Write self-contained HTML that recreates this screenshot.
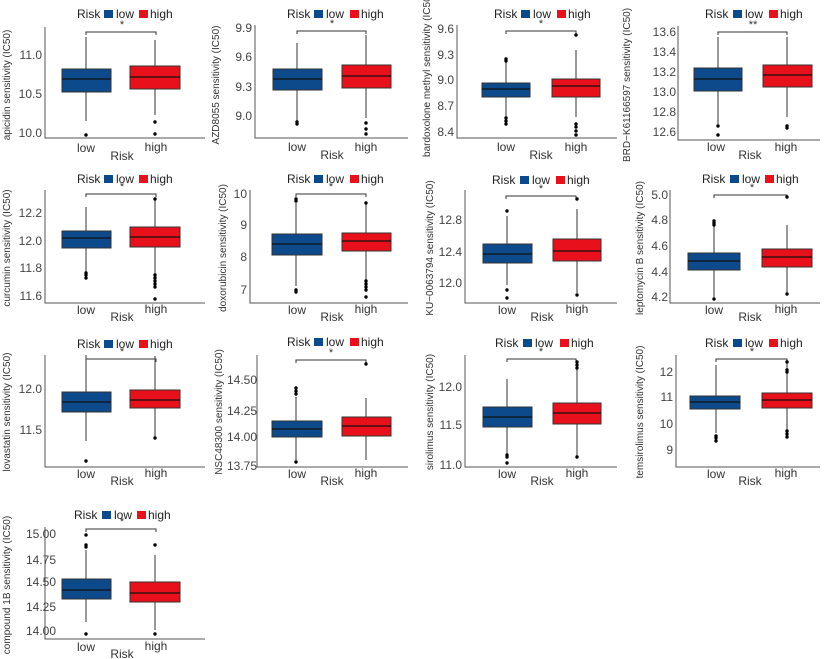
<!DOCTYPE html><html><head><style>body{margin:0;background:#fff}svg{display:block}text{font-family:"Liberation Sans",sans-serif}</style></head><body>
<svg width="830" height="659" viewBox="0 0 830 659" xmlns="http://www.w3.org/2000/svg">
<defs>
<style>.ax{stroke:#555;stroke-width:1;fill:none}.t{font-size:12px;fill:#444}.tl{font-size:12px;fill:#444;text-anchor:end}.lg{font-size:12px;fill:#222}.yl{font-size:10px;fill:#333;text-anchor:middle}.lo{fill:#0d4a8c;stroke:#333;stroke-width:1}.hi{fill:#e8101a;stroke:#333;stroke-width:1}.md{stroke:#111;stroke-width:1.3}.w{stroke:#555;stroke-width:1.2}.br{stroke:#333;stroke-width:1;fill:none}.st{font-size:11px;fill:#333;text-anchor:middle}.xl{font-size:12px;fill:#333;text-anchor:middle}</style>
</defs>

<!-- Panel 1 apicidin -->
<g>
<text class="lg" x="77" y="18">Risk</text><rect x="104" y="10" width="9" height="8" fill="#0d4a8c"/><text class="lg" x="116" y="18">low</text><rect x="139" y="10" width="9" height="8" fill="#e8101a"/><text class="lg" x="150" y="18">high</text>
<path class="ax" d="M45,27V138H205"/>
<text class="tl" x="42" y="59">11.0</text><text class="tl" x="42" y="98">10.5</text><text class="tl" x="42" y="137">10.0</text>
<path class="br" d="M86,35V32H156V35"/><text class="st" x="122" y="28">*</text>
<line class="w" x1="86" y1="37" x2="86" y2="121"/><rect class="lo" x="62" y="69" width="49" height="23"/><line class="md" x1="62" y1="79" x2="111" y2="79"/>
<circle cx="86" cy="135" r="1.7"/>
<line class="w" x1="155" y1="40" x2="155" y2="115"/><rect class="hi" x="130" y="66" width="50" height="23"/><line class="md" x1="130" y1="77" x2="180" y2="77"/>
<circle cx="155" cy="122" r="1.7"/><circle cx="155" cy="134" r="1.7"/>
<text class="xl" x="86" y="152">low</text><text class="xl" x="156" y="151">high</text><text class="xl" x="122" y="160">Risk</text>
<text class="yl" transform="translate(10,85) rotate(-90)">apicidin sensitivity (IC50)</text>
</g>

<!-- Panel 2 AZD8055 -->
<g>
<text class="lg" x="287" y="18">Risk</text><rect x="314" y="10" width="9" height="8" fill="#0d4a8c"/><text class="lg" x="326" y="18">low</text><rect x="350" y="10" width="9" height="8" fill="#e8101a"/><text class="lg" x="361" y="18">high</text>
<path class="ax" d="M255,25V138H408"/>
<text class="tl" x="252" y="32">9.9</text><text class="tl" x="252" y="61">9.6</text><text class="tl" x="252" y="91">9.3</text><text class="tl" x="252" y="120">9.0</text>
<path class="br" d="M297,34V31H366V34"/><text class="st" x="332" y="27">*</text>
<line class="w" x1="297" y1="43" x2="297" y2="121"/><rect class="lo" x="273" y="69" width="49" height="21"/><line class="md" x1="273" y1="79" x2="322" y2="79"/>
<circle cx="297" cy="122" r="1.7"/><circle cx="297" cy="124" r="1.7"/>
<line class="w" x1="366" y1="35" x2="366" y2="118"/><rect class="hi" x="342" y="65" width="49" height="23"/><line class="md" x1="342" y1="76" x2="391" y2="76"/>
<circle cx="366" cy="123" r="1.7"/><circle cx="366" cy="129" r="1.7"/><circle cx="366" cy="134" r="1.7"/>
<text class="xl" x="297" y="151">low</text><text class="xl" x="366" y="151">high</text><text class="xl" x="332" y="159">Risk</text>
<text class="yl" transform="translate(219,85) rotate(-90)">AZD8055 sensitivity (IC50)</text>
</g>

<!-- Panel 3 bardoxolone -->
<g>
<text class="lg" x="494" y="18">Risk</text><rect x="521" y="10" width="9" height="8" fill="#0d4a8c"/><text class="lg" x="533" y="18">low</text><rect x="557" y="10" width="9" height="8" fill="#e8101a"/><text class="lg" x="568" y="18">high</text>
<path class="ax" d="M457,25V138H617"/>
<text class="tl" x="454" y="33">9.6</text><text class="tl" x="454" y="59">9.3</text><text class="tl" x="454" y="84">9.0</text><text class="tl" x="454" y="110">8.7</text><text class="tl" x="454" y="136">8.4</text>
<path class="br" d="M506,34V31H576V34"/><text class="st" x="541" y="27">*</text>
<line class="w" x1="506" y1="62" x2="506" y2="117"/><rect class="lo" x="482" y="83" width="48" height="14"/><line class="md" x1="482" y1="89" x2="530" y2="89"/>
<circle cx="506" cy="59" r="1.7"/><circle cx="506" cy="61" r="1.7"/><circle cx="506" cy="118" r="1.7"/><circle cx="506" cy="121" r="1.7"/><circle cx="506" cy="124" r="1.7"/>
<line class="w" x1="576" y1="50" x2="576" y2="117"/><rect class="hi" x="552" y="79" width="48" height="18"/><line class="md" x1="552" y1="86" x2="600" y2="86"/>
<circle cx="576" cy="35" r="1.7"/><circle cx="576" cy="124" r="1.7"/><circle cx="576" cy="127" r="1.7"/><circle cx="576" cy="131" r="1.7"/><circle cx="576" cy="135" r="1.7"/>
<text class="xl" x="506" y="151">low</text><text class="xl" x="576" y="151">high</text><text class="xl" x="541" y="159">Risk</text>
<text class="yl" transform="translate(430,75) rotate(-90)">bardoxolone methyl sensitivity (IC50)</text>
</g>

<!-- Panel 4 BRD -->
<g>
<text class="lg" x="705" y="18">Risk</text><rect x="733" y="10" width="9" height="8" fill="#0d4a8c"/><text class="lg" x="745" y="18">low</text><rect x="769" y="10" width="9" height="8" fill="#e8101a"/><text class="lg" x="780" y="18">high</text>
<path class="ax" d="M678,26V140H820"/>
<text class="tl" x="676" y="36">13.6</text><text class="tl" x="676" y="56">13.4</text><text class="tl" x="676" y="76">13.2</text><text class="tl" x="676" y="96">13.0</text><text class="tl" x="676" y="116">12.8</text><text class="tl" x="676" y="136">12.6</text>
<path class="br" d="M718,35V32H787V35"/><text class="st" x="753" y="28">**</text>
<line class="w" x1="718" y1="37" x2="718" y2="124"/><rect class="lo" x="694" y="68" width="48" height="23"/><line class="md" x1="694" y1="79" x2="742" y2="79"/>
<circle cx="718" cy="126" r="1.7"/><circle cx="718" cy="135" r="1.7"/>
<line class="w" x1="787" y1="37" x2="787" y2="117"/><rect class="hi" x="763" y="65" width="49" height="22"/><line class="md" x1="763" y1="75" x2="812" y2="75"/>
<circle cx="787" cy="126" r="1.7"/><circle cx="787" cy="128" r="1.7"/>
<text class="xl" x="716" y="151">low</text><text class="xl" x="786" y="151">high</text><text class="xl" x="750" y="159">Risk</text>
<text class="yl" transform="translate(630,85) rotate(-90)">BRD−K61166597 sensitivity (IC50)</text>
</g>

<!-- Panel 5 curcumin -->
<g>
<text class="lg" x="77" y="183">Risk</text><rect x="104" y="175" width="9" height="8" fill="#0d4a8c"/><text class="lg" x="116" y="183">low</text><rect x="139" y="175" width="9" height="8" fill="#e8101a"/><text class="lg" x="150" y="183">high</text>
<path class="ax" d="M45,190V303H205"/>
<text class="tl" x="42" y="217">12.2</text><text class="tl" x="42" y="245">12.0</text><text class="tl" x="42" y="272">11.8</text><text class="tl" x="42" y="300">11.6</text>
<path class="br" d="M86,197V194H156V197"/><text class="st" x="122" y="190">*</text>
<line class="w" x1="86" y1="207" x2="86" y2="272"/><rect class="lo" x="62" y="231" width="49" height="17"/><line class="md" x1="62" y1="238" x2="111" y2="238"/>
<circle cx="86" cy="273" r="1.7"/><circle cx="86" cy="275" r="1.7"/><circle cx="86" cy="278" r="1.7"/>
<line class="w" x1="155" y1="198" x2="155" y2="276"/><rect class="hi" x="130" y="227" width="50" height="20"/><line class="md" x1="130" y1="237" x2="180" y2="237"/>
<circle cx="155" cy="199" r="1.7"/><circle cx="155" cy="275" r="1.7"/><circle cx="155" cy="278" r="1.7"/><circle cx="155" cy="281" r="1.7"/><circle cx="155" cy="284" r="1.7"/><circle cx="155" cy="287" r="1.7"/><circle cx="155" cy="299" r="1.7"/>
<text class="xl" x="86" y="314">low</text><text class="xl" x="156" y="313">high</text><text class="xl" x="122" y="321">Risk</text>
<text class="yl" transform="translate(10,248) rotate(-90)">curcumin sensitivity (IC50)</text>
</g>

<!-- Panel 6 doxorubicin -->
<g>
<text class="lg" x="287" y="183">Risk</text><rect x="314" y="175" width="9" height="8" fill="#0d4a8c"/><text class="lg" x="326" y="183">low</text><rect x="350" y="175" width="9" height="8" fill="#e8101a"/><text class="lg" x="361" y="183">high</text>
<path class="ax" d="M250,190V303H408"/>
<text class="tl" x="247" y="198">10</text><text class="tl" x="247" y="229">9</text><text class="tl" x="247" y="261">8</text><text class="tl" x="247" y="294">7</text>
<path class="br" d="M296,197V194H366V197"/><text class="st" x="331" y="190">*</text>
<line class="w" x1="296" y1="203" x2="296" y2="286"/><rect class="lo" x="272" y="234" width="50" height="21"/><line class="md" x1="272" y1="244" x2="322" y2="244"/>
<circle cx="296" cy="199" r="1.7"/><circle cx="296" cy="201" r="1.7"/><circle cx="296" cy="290" r="1.7"/><circle cx="296" cy="292" r="1.7"/>
<line class="w" x1="366" y1="203" x2="366" y2="280"/><rect class="hi" x="342" y="233" width="49" height="18"/><line class="md" x1="342" y1="241" x2="391" y2="241"/>
<circle cx="366" cy="203" r="1.7"/><circle cx="366" cy="281" r="1.7"/><circle cx="366" cy="284" r="1.7"/><circle cx="366" cy="287" r="1.7"/><circle cx="366" cy="290" r="1.7"/><circle cx="366" cy="297" r="1.7"/>
<text class="xl" x="297" y="314">low</text><text class="xl" x="366" y="313">high</text><text class="xl" x="332" y="321">Risk</text>
<text class="yl" transform="translate(226,248) rotate(-90)">doxorubicin sensitivity (IC50)</text>
</g>

<!-- Panel 7 KU -->
<g>
<text class="lg" x="492" y="184">Risk</text><rect x="520" y="176" width="9" height="8" fill="#0d4a8c"/><text class="lg" x="532" y="184">low</text><rect x="556" y="176" width="9" height="8" fill="#e8101a"/><text class="lg" x="567" y="184">high</text>
<path class="ax" d="M465,190V303H617"/>
<text class="tl" x="462" y="224">12.8</text><text class="tl" x="462" y="256">12.4</text><text class="tl" x="462" y="287">12.0</text>
<path class="br" d="M506,199V196H576V199"/><text class="st" x="541" y="192">*</text>
<line class="w" x1="507" y1="216" x2="507" y2="285"/><rect class="lo" x="483" y="244" width="49" height="19"/><line class="md" x1="483" y1="254" x2="532" y2="254"/>
<circle cx="507" cy="211" r="1.7"/><circle cx="507" cy="290" r="1.7"/><circle cx="507" cy="298" r="1.7"/>
<line class="w" x1="577" y1="209" x2="577" y2="293"/><rect class="hi" x="553" y="239" width="48" height="22"/><line class="md" x1="553" y1="251" x2="601" y2="251"/>
<circle cx="577" cy="199" r="1.7"/><circle cx="577" cy="295" r="1.7"/>
<text class="xl" x="507" y="314">low</text><text class="xl" x="577" y="313">high</text><text class="xl" x="542" y="321">Risk</text>
<text class="yl" transform="translate(433,248) rotate(-90)">KU−0063794 sensitivity (IC50)</text>
</g>

<!-- Panel 8 leptomycin -->
<g>
<text class="lg" x="702" y="183">Risk</text><rect x="730" y="175" width="9" height="8" fill="#0d4a8c"/><text class="lg" x="742" y="183">low</text><rect x="765" y="175" width="9" height="8" fill="#e8101a"/><text class="lg" x="776" y="183">high</text>
<path class="ax" d="M670,190V303H820"/>
<text class="tl" x="668" y="199">5.0</text><text class="tl" x="668" y="224">4.8</text><text class="tl" x="668" y="250">4.6</text><text class="tl" x="668" y="276">4.4</text><text class="tl" x="668" y="301">4.2</text>
<path class="br" d="M714,198V195H787V198"/><text class="st" x="752" y="191">*</text>
<line class="w" x1="714" y1="226" x2="714" y2="297"/><rect class="lo" x="688" y="253" width="52" height="17"/><line class="md" x1="688" y1="261" x2="740" y2="261"/>
<circle cx="714" cy="221" r="1.7"/><circle cx="714" cy="223" r="1.7"/><circle cx="714" cy="225" r="1.7"/><circle cx="714" cy="299" r="1.7"/>
<line class="w" x1="787" y1="225" x2="787" y2="294"/><rect class="hi" x="762" y="249" width="50" height="18"/><line class="md" x1="762" y1="257" x2="812" y2="257"/>
<circle cx="787" cy="197" r="1.7"/><circle cx="787" cy="294" r="1.7"/>
<text class="xl" x="714" y="314">low</text><text class="xl" x="786" y="313">high</text><text class="xl" x="750" y="321">Risk</text>
<text class="yl" transform="translate(643,248) rotate(-90)">leptomycin B sensitivity (IC50)</text>
</g>

<!-- Panel 9 lovastatin -->
<g>
<text class="lg" x="77" y="348">Risk</text><rect x="104" y="340" width="9" height="8" fill="#0d4a8c"/><text class="lg" x="116" y="348">low</text><rect x="139" y="340" width="9" height="8" fill="#e8101a"/><text class="lg" x="150" y="348">high</text>
<path class="ax" d="M45,355V467H205"/>
<text class="tl" x="42" y="393">12.0</text><text class="tl" x="42" y="434">11.5</text>
<path class="br" d="M86,362V359H156V362"/><text class="st" x="122" y="355">*</text>
<line class="w" x1="86" y1="355" x2="86" y2="441"/><rect class="lo" x="62" y="392" width="49" height="20"/><line class="md" x1="62" y1="402" x2="111" y2="402"/>
<circle cx="86" cy="461" r="1.7"/>
<line class="w" x1="155" y1="356" x2="155" y2="437"/><rect class="hi" x="130" y="390" width="50" height="18"/><line class="md" x1="130" y1="400" x2="180" y2="400"/>
<circle cx="155" cy="438" r="1.7"/>
<text class="xl" x="86" y="478">low</text><text class="xl" x="156" y="477">high</text><text class="xl" x="122" y="485">Risk</text>
<text class="yl" transform="translate(10,412) rotate(-90)">lovastatin sensitivity (IC50)</text>
</g>

<!-- Panel 10 NSC48300 -->
<g>
<text class="lg" x="287" y="346">Risk</text><rect x="314" y="338" width="9" height="8" fill="#0d4a8c"/><text class="lg" x="326" y="346">low</text><rect x="350" y="338" width="9" height="8" fill="#e8101a"/><text class="lg" x="361" y="346">high</text>
<path class="ax" d="M257,355V467H408"/>
<text class="tl" x="257" y="384">14.50</text><text class="tl" x="257" y="415">14.25</text><text class="tl" x="257" y="441">14.00</text><text class="tl" x="257" y="470">13.75</text>
<path class="br" d="M296,363V360H366V363"/><text class="st" x="331" y="356">*</text>
<line class="w" x1="296" y1="397" x2="296" y2="460"/><rect class="lo" x="272" y="421" width="50" height="16"/><line class="md" x1="272" y1="429" x2="322" y2="429"/>
<circle cx="296" cy="388" r="1.7"/><circle cx="296" cy="391" r="1.7"/><circle cx="296" cy="394" r="1.7"/><circle cx="296" cy="462" r="1.7"/>
<line class="w" x1="366" y1="398" x2="366" y2="460"/><rect class="hi" x="342" y="417" width="49" height="19"/><line class="md" x1="342" y1="426" x2="391" y2="426"/>
<circle cx="366" cy="364" r="1.7"/>
<text class="xl" x="297" y="478">low</text><text class="xl" x="366" y="477">high</text><text class="xl" x="332" y="485">Risk</text>
<text class="yl" transform="translate(222,412) rotate(-90)">NSC48300 sensitivity (IC50)</text>
</g>

<!-- Panel 11 sirolimus -->
<g>
<text class="lg" x="495" y="347">Risk</text><rect x="523" y="339" width="9" height="8" fill="#0d4a8c"/><text class="lg" x="535" y="347">low</text><rect x="560" y="339" width="9" height="8" fill="#e8101a"/><text class="lg" x="571" y="347">high</text>
<path class="ax" d="M465,355V467H617"/>
<text class="tl" x="462" y="391">12.0</text><text class="tl" x="462" y="429">11.5</text><text class="tl" x="462" y="469">11.0</text>
<path class="br" d="M507,362V359H576V362"/><text class="st" x="541" y="355">*</text>
<line class="w" x1="507" y1="379" x2="507" y2="455"/><rect class="lo" x="483" y="407" width="49" height="20"/><line class="md" x1="483" y1="417" x2="532" y2="417"/>
<circle cx="507" cy="455" r="1.7"/><circle cx="507" cy="457" r="1.7"/><circle cx="507" cy="463" r="1.7"/>
<line class="w" x1="577" y1="361" x2="577" y2="457"/><rect class="hi" x="553" y="403" width="48" height="21"/><line class="md" x1="553" y1="413" x2="601" y2="413"/>
<circle cx="577" cy="362" r="1.7"/><circle cx="577" cy="365" r="1.7"/><circle cx="577" cy="368" r="1.7"/><circle cx="577" cy="457" r="1.7"/>
<text class="xl" x="507" y="478">low</text><text class="xl" x="577" y="477">high</text><text class="xl" x="542" y="485">Risk</text>
<text class="yl" transform="translate(433,412) rotate(-90)">sirolimus sensitivity (IC50)</text>
</g>

<!-- Panel 12 temsirolimus -->
<g>
<text class="lg" x="705" y="347">Risk</text><rect x="733" y="339" width="9" height="8" fill="#0d4a8c"/><text class="lg" x="745" y="347">low</text><rect x="769" y="339" width="9" height="8" fill="#e8101a"/><text class="lg" x="780" y="347">high</text>
<path class="ax" d="M676,355V467H820"/>
<text class="tl" x="673" y="376">12</text><text class="tl" x="673" y="401">11</text><text class="tl" x="673" y="428">10</text><text class="tl" x="673" y="454">9</text>
<path class="br" d="M716,362V359H787V362"/><text class="st" x="752" y="355">*</text>
<line class="w" x1="716" y1="365" x2="716" y2="433"/><rect class="lo" x="690" y="396" width="50" height="13"/><line class="md" x1="690" y1="402" x2="740" y2="402"/>
<circle cx="716" cy="436" r="1.7"/><circle cx="716" cy="438" r="1.7"/><circle cx="716" cy="441" r="1.7"/>
<line class="w" x1="787" y1="360" x2="787" y2="430"/><rect class="hi" x="762" y="393" width="50" height="15"/><line class="md" x1="762" y1="400" x2="812" y2="400"/>
<circle cx="787" cy="362" r="1.7"/><circle cx="787" cy="370" r="1.7"/><circle cx="787" cy="372" r="1.7"/><circle cx="787" cy="431" r="1.7"/><circle cx="787" cy="434" r="1.7"/><circle cx="787" cy="437" r="1.7"/>
<text class="xl" x="716" y="478">low</text><text class="xl" x="786" y="477">high</text><text class="xl" x="750" y="485">Risk</text>
<text class="yl" transform="translate(643,412) rotate(-90)">temsirolimus sensitivity (IC50)</text>
</g>

<!-- Panel 13 compound 1B -->
<g>
<text class="lg" x="74" y="519">Risk</text><rect x="102" y="511" width="9" height="8" fill="#0d4a8c"/><text class="lg" x="114" y="519">low</text><rect x="137" y="511" width="9" height="8" fill="#e8101a"/><text class="lg" x="148" y="519">high</text>
<path class="ax" d="M45,527V639H205"/>
<text class="tl" x="56" y="538">15.00</text><text class="tl" x="56" y="564">14.75</text><text class="tl" x="56" y="586">14.50</text><text class="tl" x="56" y="611">14.25</text><text class="tl" x="56" y="635">14.00</text>
<path class="br" d="M86,532V529H156V532"/><text class="st" x="122" y="525">*</text>
<line class="w" x1="86" y1="550" x2="86" y2="622"/><rect class="lo" x="62" y="579" width="49" height="20"/><line class="md" x1="62" y1="590" x2="111" y2="590"/>
<circle cx="86" cy="535" r="1.7"/><circle cx="86" cy="545" r="1.7"/><circle cx="86" cy="547" r="1.7"/><circle cx="86" cy="634" r="1.7"/>
<line class="w" x1="155" y1="555" x2="155" y2="630"/><rect class="hi" x="130" y="582" width="50" height="20"/><line class="md" x1="130" y1="593" x2="180" y2="593"/>
<circle cx="155" cy="545" r="1.7"/><circle cx="155" cy="634" r="1.7"/>
<text class="xl" x="86" y="651">low</text><text class="xl" x="156" y="650">high</text><text class="xl" x="122" y="658">Risk</text>
<text class="yl" transform="translate(10,585) rotate(-90)">compound 1B sensitivity (IC50)</text>
</g>
</svg>
</body></html>
